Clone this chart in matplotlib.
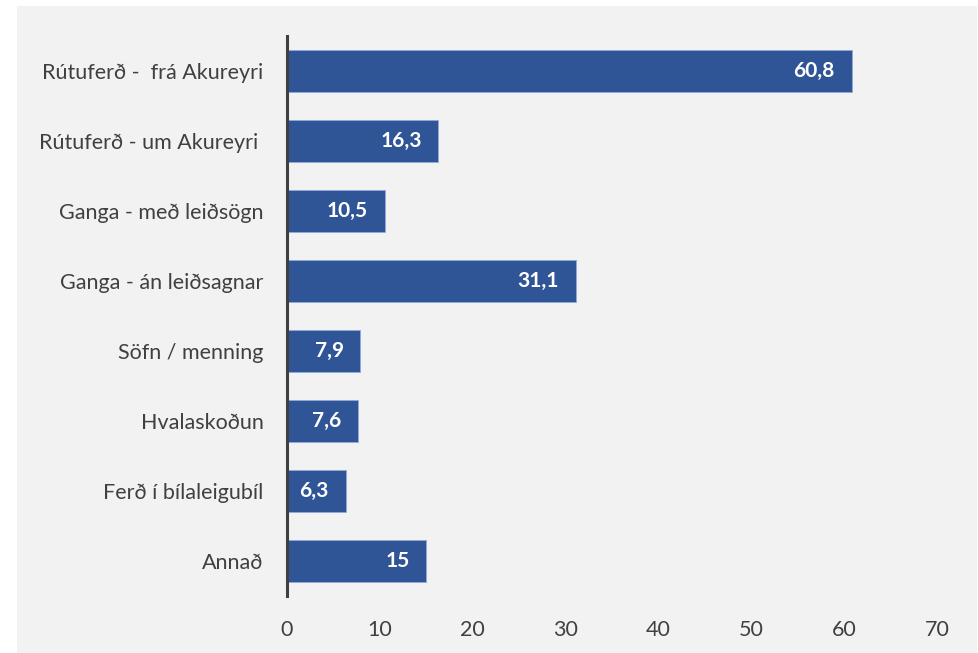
import matplotlib.pyplot as plt

categories = ['Rútuferð -  frá Akureyri', 'Rútuferð - um Akureyri ', 'Ganga - með leiðsögn',
              'Ganga - án leiðsagnar', 'Söfn / menning', 'Hvalaskoðun',
              'Ferð í bílaleigubíl', 'Annað']
values = [60.8, 16.3, 10.5, 31.1, 7.9, 7.6, 6.3, 15]
value_labels = ['60,8', '16,3', '10,5', '31,1', '7,9', '7,6', '6,3', '15']
xticks = [0, 10, 20, 30, 40, 50, 60, 70]

plt.rcParams['font.family'] = ['Lato', 'DejaVu Sans']
textcol = '#404040'
bg = '#f2f2f2'

fig = plt.figure(figsize=(9.79, 6.53), dpi=100, facecolor='white')

# grey chart area behind everything
bgax = fig.add_axes([17 / 979, 0, 960 / 979, 647 / 653], zorder=0)
bgax.set_facecolor(bg)
bgax.set_xticks([])
bgax.set_yticks([])
for s in bgax.spines.values():
    s.set_visible(False)

ax = fig.add_axes([287 / 979, 1 - 596 / 653, 650 / 979, 560 / 653], zorder=1)
ax.set_facecolor('none')

ypos = list(range(len(categories)))
ax.barh(ypos, values, height=0.6, color='#2f5597', edgecolor='#8faadc', linewidth=0.6, zorder=2)

for y, v, lab in zip(ypos, values, value_labels):
    ax.text(v - 1.8, y, lab, ha='right', va='center', color='white',
            fontsize=15, fontweight='bold', zorder=3)

ax.set_xlim(0, 70)
ax.set_ylim(len(categories) - 0.5, -0.5)
ax.set_yticks(ypos)
ax.set_yticklabels(categories)
ax.set_xticks(xticks)
ax.set_xticklabels([str(t) for t in xticks])
ax.tick_params(axis='y', length=0, pad=17, labelsize=15.5, labelcolor=textcol)
ax.tick_params(axis='x', length=0, pad=17, labelsize=15.5, labelcolor=textcol)

for s in ['top', 'right', 'bottom']:
    ax.spines[s].set_visible(False)
ax.spines['left'].set_color('#404040')
ax.spines['left'].set_linewidth(2.2)
ax.spines['left'].set_zorder(4)

fig.savefig('out.png', dpi=100, facecolor='white')
